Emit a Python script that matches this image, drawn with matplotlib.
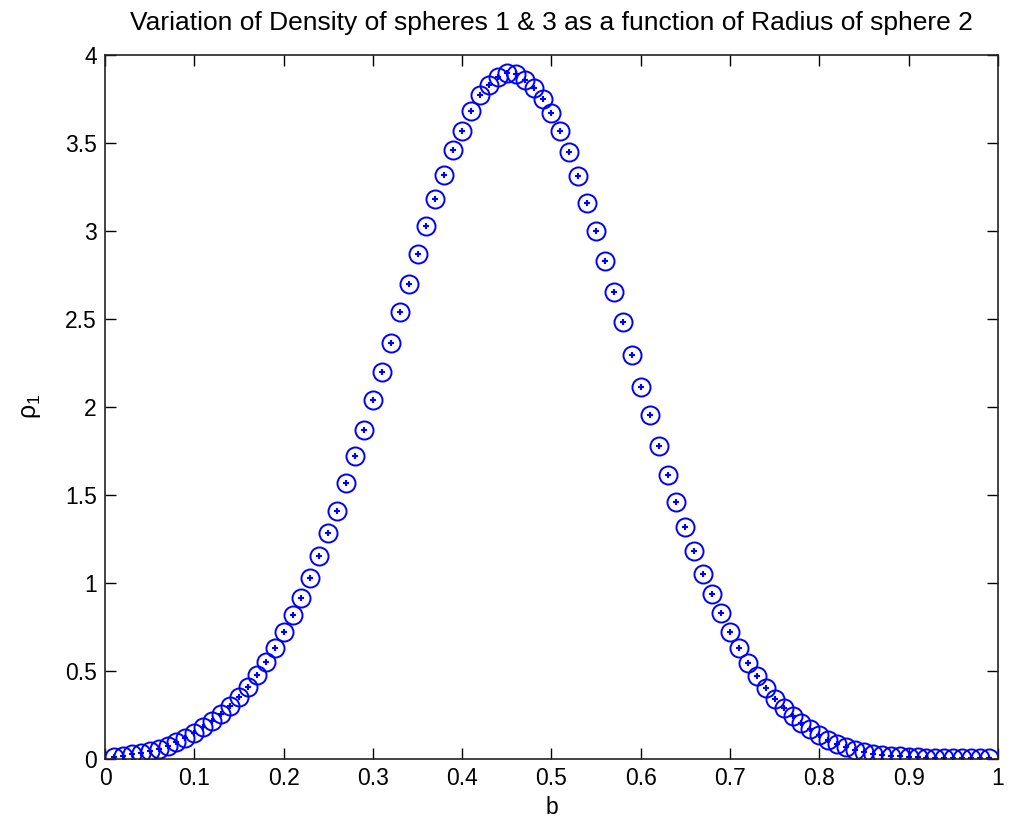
import matplotlib.pyplot as plt

# radio de la esfera 2 (b) y densidad de las esferas 1 y 3 (rho_1)
b = [0.01, 0.02, 0.03, 0.04, 0.05, 0.06, 0.07, 0.08, 0.09, 0.10,
     0.11, 0.12, 0.13, 0.14, 0.15, 0.16, 0.17, 0.18, 0.19, 0.20,
     0.21, 0.22, 0.23, 0.24, 0.25, 0.26, 0.27, 0.28, 0.29, 0.30,
     0.31, 0.32, 0.33, 0.34, 0.35, 0.36, 0.37, 0.38, 0.39, 0.40,
     0.41, 0.42, 0.43, 0.44, 0.45, 0.46, 0.47, 0.48, 0.49, 0.50,
     0.51, 0.52, 0.53, 0.54, 0.55, 0.56, 0.57, 0.58, 0.59, 0.60,
     0.61, 0.62, 0.63, 0.64, 0.65, 0.66, 0.67, 0.68, 0.69, 0.70,
     0.71, 0.72, 0.73, 0.74, 0.75, 0.76, 0.77, 0.78, 0.79, 0.80,
     0.81, 0.82, 0.83, 0.84, 0.85, 0.86, 0.87, 0.88, 0.89, 0.90,
     0.91, 0.92, 0.93, 0.94, 0.95, 0.96, 0.97, 0.98, 0.99]

rho1 = [0.012, 0.018, 0.025, 0.034, 0.045, 0.058, 0.075, 0.095, 0.12, 0.148,
        0.178, 0.214, 0.255, 0.30, 0.35, 0.41, 0.475, 0.548, 0.63, 0.72,
        0.815, 0.915, 1.03, 1.155, 1.285, 1.41, 1.57, 1.72, 1.87, 2.04,
        2.20, 2.36, 2.54, 2.70, 2.87, 3.03, 3.18, 3.32, 3.46, 3.57,
        3.68, 3.77, 3.83, 3.875, 3.895, 3.89, 3.86, 3.81, 3.75, 3.67,
        3.57, 3.45, 3.31, 3.16, 3.00, 2.83, 2.655, 2.48, 2.295, 2.115,
        1.955, 1.78, 1.61, 1.46, 1.32, 1.18, 1.05, 0.935, 0.83, 0.72,
        0.63, 0.547, 0.473, 0.405, 0.34, 0.29, 0.245, 0.205, 0.168, 0.135,
        0.108, 0.085, 0.066, 0.05, 0.038, 0.029, 0.022, 0.017, 0.013, 0.010,
        0.008, 0.007, 0.006, 0.005, 0.004, 0.004, 0.003, 0.003, 0.003]

x_ticks = [0, 0.1, 0.2, 0.3, 0.4, 0.5, 0.6, 0.7, 0.8, 0.9, 1]
x_tick_labels = ["0", "0.1", "0.2", "0.3", "0.4", "0.5", "0.6", "0.7", "0.8", "0.9", "1"]
y_ticks = [0, 0.5, 1, 1.5, 2, 2.5, 3, 3.5, 4]
y_tick_labels = ["0", "0.5", "1", "1.5", "2", "2.5", "3", "3.5", "4"]

plt.rcParams["font.family"] = ["Liberation Sans", "DejaVu Sans"]
plt.rcParams["mathtext.fontset"] = "custom"
plt.rcParams["mathtext.rm"] = "Liberation Sans"
plt.rcParams["mathtext.it"] = "Liberation Sans"

fig = plt.figure(figsize=(10.1, 8.32), dpi=100)
ax = fig.add_axes([0.104, 0.088, 0.884, 0.846])

# circulo con cruz en el centro, como en matlab
ax.plot(b, rho1, linestyle="none", marker="o", markersize=13, markerfacecolor="none",
        markeredgecolor="#0000ff", markeredgewidth=1.4)
ax.plot(b, rho1, linestyle="none", marker="+", markersize=5,
        markeredgecolor="#0000ff", markeredgewidth=1.5)

ax.set_xlim(0, 1)
ax.set_ylim(0, 4)
ax.set_xticks(x_ticks)
ax.set_xticklabels(x_tick_labels)
ax.set_yticks(y_ticks)
ax.set_yticklabels(y_tick_labels)
ax.tick_params(direction="in", length=8, width=1, labelsize=16.5, top=True, right=True, pad=6)
for s in ax.spines.values():
    s.set_linewidth(1.2)
    s.set_color("#222222")

ax.set_title("Variation of Density of spheres 1 & 3 as a function of Radius of sphere 2",
             fontsize=19, pad=18)
ax.set_xlabel("b", fontsize=16.5, labelpad=4)
ax.set_ylabel(r"$\rho_1$", fontsize=18, labelpad=16)

fig.savefig("out.png", dpi=100)
